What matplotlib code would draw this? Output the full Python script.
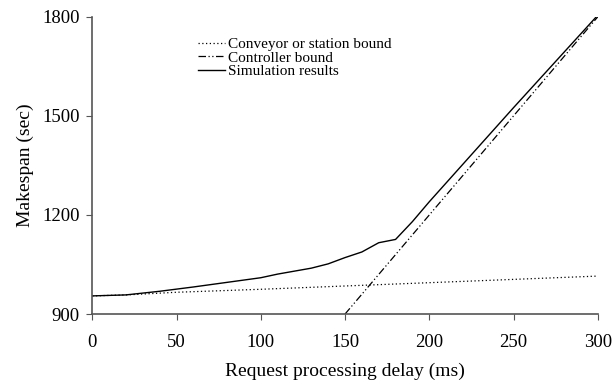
import matplotlib.pyplot as plt
import numpy as np

plt.rcParams['font.family'] = ['Liberation Serif', 'DejaVu Serif']

# datos
delay = [0, 20, 40, 60, 80, 100, 110, 120, 130, 140, 150, 160, 170, 180, 190, 200, 250, 300]
sim = [955, 958, 969, 982, 996, 1010, 1021, 1030, 1039, 1052, 1071, 1088, 1116, 1126, 1180, 1240, 1525, 1805]

conv_x = [0, 20, 50, 100, 150, 200, 250, 300]
conv_y = [955, 958, 966, 975, 985, 995, 1005, 1015]

ctrl_x = [150, 300]
ctrl_y = [900, 1800]

fig = plt.figure(figsize=(6.15, 3.83), dpi=100)
ax = fig.add_axes([0.15, 0.18, 0.822, 0.776])

ax.plot(conv_x, conv_y, color='black', lw=0.9, linestyle=(0, (1, 2)), label='Conveyor or station bound')
ax.plot(ctrl_x, ctrl_y, color='black', lw=0.9, linestyle=(0, (6, 2, 1, 2, 1, 2)), label='Controller bound')
ax.plot(delay, sim, color='black', lw=1.0, label='Simulation results')

ax.set_xlim(0, 300)
ax.set_ylim(900, 1800)
ax.set_xticks([0, 50, 100, 150, 200, 250, 300])
ax.set_yticks([900, 1200, 1500, 1800])
ax.set_xlabel('Request processing delay (ms)', fontsize=14, labelpad=9)
ax.set_ylabel('Makespan (sec)', fontsize=14, labelpad=6)
ax.tick_params(labelsize=13.5, color='#555555', length=4)
ax.tick_params(axis='x', pad=10)
ax.tick_params(axis='y', pad=5)

for s in ['top', 'right']:
    ax.spines[s].set_visible(False)
for s in ['left', 'bottom']:
    ax.spines[s].set_color('#555555')
    ax.spines[s].set_linewidth(1.2)

ax.legend(loc='center left', bbox_to_anchor=(0.322, 0.849), bbox_transform=fig.transFigure,
          frameon=False, fontsize=11, handlelength=1.75, handletextpad=0.2,
          labelspacing=0, borderaxespad=0, borderpad=0)

fig.savefig('out.png', dpi=100)
